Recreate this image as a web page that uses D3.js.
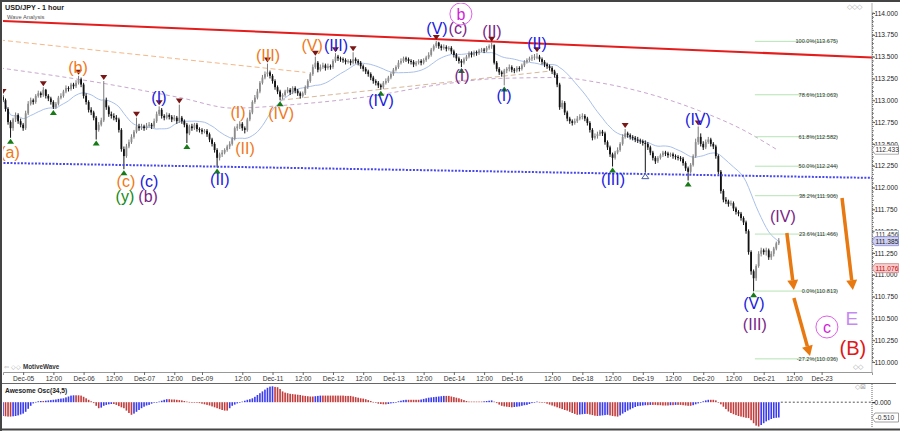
<!DOCTYPE html>
<html><head><meta charset="utf-8">
<script src="https://cdn.jsdelivr.net/npm/d3@7"></script>
<style>body{margin:0;background:#fff;}svg{display:block;font-family:"Liberation Sans",Arial,sans-serif;}</style>
</head><body><svg id="c" width="900" height="431"></svg>
<script>
// ---- DATA (prices in hundredths of a yen above 110.00) ----
const firstOpen = 304;
const closes = [
300,290,275,268,278,283,276,272,268,285,
296,300,298,305,308,306,312,305,302,298,
292,296,303,305,310,314,313,318,316,320,
324,318,305,298,289,286,280,266,272,277,
300,292,284,282,280,278,266,244,236,247,
252,258,264,270,268,270,268,271,272,270,
276,284,289,282,280,283,281,278,280,276,
280,276,272,262,270,268,272,267,266,264,
265,261,255,250,243,234,238,240,243,247,
250,256,268,270,273,268,266,278,286,298,
303,310,320,326,330,332,328,322,315,310,
304,306,310,312,309,314,311,308,305,308,
315,322,330,338,343,335,338,340,337,339,
338,345,350,348,347,346,344,345,343,347,
345,343,339,336,333,330,326,322,320,317,
315,320,322,326,330,335,338,343,345,348,
347,345,344,341,343,345,343,346,349,352,
358,362,366,362,360,361,359,360,356,352,
348,345,343,347,350,354,352,355,354,357,
358,357,360,362,363,343,336,332,330,334,
336,338,335,334,337,336,340,344,346,348,
349,350,350,347,344,341,339,337,333,329,
318,292,297,286,279,276,274,276,279,281,
282,279,274,266,257,259,261,264,262,252,
246,238,234,240,243,250,258,262,260,258,
257,255,254,253,251,250,246,240,234,230,
234,237,240,239,237,238,236,235,234,233,
228,222,218,226,236,252,258,250,246,252,
255,250,247,236,218,196,186,184,181,182,
176,172,170,165,160,150,126,104,96,110,
124,128,126,128,120,124,130,136,139];
const highs = [
306,302,292,277,280,286,285,279,274,288,
299,303,302,307,311,310,315,313,307,304,
300,298,305,308,312,317,316,320,320,323,
328,326,320,308,300,292,288,282,275,280,
322,303,294,287,285,283,280,268,247,250,
255,261,266,280,273,273,272,274,275,274,
279,287,293,291,284,286,285,283,283,282,
295,282,278,274,272,273,274,274,269,268,
267,267,263,257,252,245,240,243,245,249,
253,258,270,273,276,275,270,280,289,300,
306,313,322,329,333,342,334,330,324,317,
312,308,312,315,314,316,316,313,310,310,
317,324,332,341,350,345,341,343,342,342,
341,347,354,352,350,349,348,347,347,355,
349,347,345,341,338,335,332,328,324,322,
319,322,325,328,332,337,340,346,348,350,
350,349,347,346,345,347,347,348,351,355,
360,364,368,367,364,364,363,362,362,358,
354,350,347,349,352,356,356,357,357,359,
360,360,362,364,366,364,345,338,334,336,
338,341,340,337,339,339,342,346,348,350,
352,353,354,352,349,346,343,341,339,335,
331,320,300,299,288,281,278,279,282,284,
285,284,281,276,268,262,264,266,266,264,
254,248,240,242,246,252,261,267,264,262,
260,259,258,256,255,254,252,248,242,236,
236,239,242,242,241,240,240,238,237,236,
235,230,224,228,238,256,270,262,253,255,
258,257,252,249,238,220,198,189,186,185,
184,178,174,172,167,162,152,128,106,112,
127,131,130,131,130,127,132,138,142];
const lows = [
298,287,272,257,265,275,273,269,265,266,
283,294,295,296,303,303,304,302,299,295,
290,290,294,301,303,308,310,311,313,314,
318,315,302,295,286,283,277,255,264,270,
275,289,281,279,277,275,263,241,221,234,
245,250,256,262,265,266,265,266,269,267,
268,274,282,279,277,278,278,275,276,273,
274,273,269,251,260,265,266,264,263,261,
262,258,252,247,240,223,231,235,238,241,
244,248,254,265,267,265,262,264,276,284,
296,301,308,318,324,327,325,319,312,307,
300,301,304,308,306,307,308,305,302,303,
306,313,320,328,336,332,333,336,334,335,
335,336,343,345,344,343,341,342,340,341,
342,340,336,333,330,327,323,319,317,314,
312,313,318,320,324,328,333,336,341,343,
344,342,341,338,339,341,340,341,344,347,
350,356,360,359,357,358,356,357,353,349,
345,342,338,341,345,348,349,350,351,352,
355,354,355,358,359,341,333,329,327,317,
331,333,332,331,332,333,334,338,342,344,
345,346,347,344,341,338,336,334,330,326,
315,289,290,283,276,273,271,272,274,277,
278,276,271,263,254,255,256,259,259,249,
243,235,224,232,238,241,248,256,257,255,
254,252,251,250,248,217,243,237,231,227,
228,232,235,236,234,235,233,232,231,230,
225,219,208,216,224,234,249,247,243,244,
250,247,244,233,215,193,183,181,178,179,
173,169,167,162,157,147,123,100,81,93,
108,121,123,122,117,117,121,128,134];
// Awesome oscillator (hundredths)
const aoValues = [
-46,-47,-48,-48,-47,-46,-44,-41,-38,-32,
-22,-12,-4,1,3,4,4,5,6,7,
8,9,11,12,13,16,19,22,23,23,
23,22,18,13,8,3,-3,-12,-20,-18,
-12,-9,-7,-6,-6,-9,-13,-17,-20,-28,
-36,-42,-38,-32,-26,-20,-15,-11,-9,-5,
-2,0,2,5,8,10,10,9,9,8,
7,6,4,2,1,0,-1,-2,-3,-5,
-7,-9,-11,-14,-17,-20,-23,-26,-28,-28,
-20,-12,-8,-4,-1,2,5,8,10,13,
18,24,30,36,42,48,52,53,51,50,
44,36,32,30,28,27,26,25,24,22,
21,20,19,19,20,21,22,22,22,22,
22,22,22,22,22,22,21,21,21,19,
17,15,13,12,10,7,4,1,-2,-5,
-6,-7,-7,-6,-4,-3,0,3,5,7,
8,8,8,8,8,8,9,11,13,15,
16,17,18,19,20,21,21,21,19,17,
15,13,10,7,4,2,2,2,2,2,
2,3,4,5,6,2,-3,-8,-12,-14,
-15,-16,-17,-16,-15,-14,-12,-10,-9,-6,
-3,0,2,1,0,-2,-5,-8,-11,-14,
-17,-20,-23,-26,-28,-32,-36,-39,-42,-41,
-40,-39,-39,-41,-43,-45,-46,-45,-44,-43,
-42,-44,-46,-47,-48,-44,-38,-33,-28,-24,
-20,-16,-13,-12,-11,-10,-10,-9,-9,-9,
-10,-10,-11,-11,-11,-10,-10,-9,-9,-9,
-10,-11,-12,-12,-10,-7,-4,-1,3,6,
8,8,8,6,0,-7,-15,-23,-31,-36,
-40,-43,-46,-48,-50,-52,-53,-60,-70,-78,
-81,-76,-70,-64,-60,-56,-53,-52,-51];
const tickBars = [8,20,32,44,56,68,79,95,107,119,131,143,155,167,179,191,202,218,230,242,254,266,278,290,302,314,325];
const tickLabels = ["Dec-05","12:00","Dec-06","12:00","Dec-07","12:00","Dec-09","12:00","Dec-11","12:00","Dec-12","12:00","Dec-13","12:00","Dec-14","12:00","Dec-16","12:00","Dec-18","12:00","Dec-19","12:00","Dec-20","12:00","Dec-21","12:00","Dec-23"];
const priceTicks = [110,110.25,110.5,110.75,111,111.25,111.5,111.75,112,112.25,112.5,112.75,113,113.25,113.5,113.75,114];
const fibPct = ["100.0","78.6","61.8","50.0","38.2","23.6","0.0","-27.2"];
const fibPrice = [113.675,113.063,112.582,112.244,111.906,111.466,110.813,110.036];
const fibSpan = [298.5,331.5];
const swingHighBars = [0,16,30,40,53,62,70,105,124,132,139,172,194,212,247,276];
const swingLowBars = [3,20,37,48,73,85,110,150,182,199,242,272,298];
const hollowLowBars = [255];
const redTrend = [[-1.2,113.91],[345,113.49]];
const blueSupport = [[-1.2,112.282],[345,112.11]];
const orangeGuide = [[-1.2,113.69],[120,113.32]];
const tanGuide = [[110,113.00],[219,113.34]];
const purpleMA = [[-1.2,113.37],[38.5,113.2],[70.3,113.03],[91.3,112.91],[115.1,112.95],[144.5,113.04],[173.5,113.18],[197,113.25],[220,113.26],[237,113.2],[275.5,112.89],[293.8,112.66],[307.3,112.433]];
const waveLabels = [
 {t:"(a)",k:"o",i:2.8,p:112.407},{t:"(b)",k:"o",i:29.8,p:113.381},{t:"(c)",k:"o",i:48.8,p:112.075},
 {t:"(c)",k:"b",i:58.0,p:112.075},{t:"(y)",k:"g",i:48.4,p:111.903},{t:"(b)",k:"p",i:57.6,p:111.903},
 {t:"(I)",k:"b",i:61.9,p:113.037},{t:"(II)",k:"b",i:86.1,p:112.097},{t:"(I)",k:"o",i:93.3,p:112.865},
 {t:"(II)",k:"o",i:96.1,p:112.453},{t:"(III)",k:"o",i:105.2,p:113.519},{t:"(IV)",k:"o",i:110.4,p:112.854},
 {t:"(V)",k:"o",i:122.7,p:113.633},{t:"(III)",k:"b",i:132.2,p:113.633},{t:"(IV)",k:"b",i:150.1,p:113.003},
 {t:"(V)",k:"b",i:172.3,p:113.828},{t:"(c)",k:"p",i:180.6,p:113.828},{t:"(I)",k:"p",i:182.2,p:113.289},
 {t:"(II)",k:"p",i:194.1,p:113.794},{t:"(I)",k:"b",i:198.9,p:113.06},{t:"(II)",k:"b",i:212.0,p:113.656},
 {t:"(III)",k:"b",i:242.2,p:112.097},{t:"(IV)",k:"b",i:275.9,p:112.785},{t:"(V)",k:"b",i:298.1,p:110.676},
 {t:"(III)",k:"p",i:298.5,p:110.436},{t:"(IV)",k:"p",i:309.6,p:111.673}];
const circled = [{t:"b",i:181.8,p:113.989},{t:"c",i:327.1,p:110.401}];
const bigLabels = [{t:"E",k:"v",i:337.0,p:110.504},{t:"(B)",k:"r",i:337.4,p:110.16}];
const arrows = [[[311.2,111.479],[314.0,110.825]],[[314.0,110.733],[320.4,110.069]],[[333.1,111.88],[337.4,110.825]]];
const lastPrice = 111.385, purpleMAValue = 112.433, blueMAValue = 111.456, markPrice = 111.076, aoLast = -0.510;

// ---- CHART ----
const svg = d3.select('#c');
const x = d3.scaleLinear().domain([0,345]).range([3,872]);
const y = d3.scaleLinear().domain([110,114]).range([362,13]);
const yAO = d3.scaleLinear().domain([-0.51,0]).range([417.5,402.2]);
const P = v => 110 + v/100;
const colors = {o:"#f07818",b:"#1a1ae0",p:"#7a1f86",g:"#138a13",v:"#c58af0",r:"#e01818"};

const bars = closes.map((c,i)=>({i,o:i?closes[i-1]:firstOpen,h:highs[i],l:lows[i],c}));

svg.append('rect').attr('width',900).attr('height',431).attr('fill','#fff');
const defs = svg.append('defs');
defs.append('clipPath').attr('id','mainClip').append('rect').attr('x',3).attr('y',3).attr('width',869).attr('height',369);
defs.append('clipPath').attr('id','aoClip').append('rect').attr('x',3).attr('y',384).attr('width',869).attr('height',44);

const main = svg.append('g').attr('clip-path','url(#mainClip)');
const line = d3.line().x(d=>x(d[0])).y(d=>y(d[1]));
const curved = d3.line().x(d=>x(d[0])).y(d=>y(d[1])).curve(d3.curveMonotoneX);

// guide lines
main.append('path').attr('d',line(orangeGuide)).attr('fill','none').attr('stroke','#f5b787').attr('stroke-width',1).attr('stroke-dasharray','5,3');
main.append('path').attr('d',line(tanGuide)).attr('fill','none').attr('stroke','#d8b89a').attr('stroke-width',1).attr('stroke-dasharray','5,3');
main.append('path').attr('d',curved(purpleMA)).attr('fill','none').attr('stroke','#c9a6cf').attr('stroke-width',1).attr('stroke-dasharray','4,3');
// SMA(20) of closes
const sma = closes.map((c,i)=>[i, P(d3.mean(closes.slice(Math.max(0,i-19),i+1)))]);
main.append('path').attr('d',line(sma)).attr('fill','none').attr('stroke','#a9c0ea').attr('stroke-width',1);

// fib levels
fibPrice.forEach((fp,k)=>{
  main.append('line').attr('x1',x(fibSpan[0])).attr('x2',x(fibSpan[1])).attr('y1',y(fp)).attr('y2',y(fp)).attr('stroke','#b5e3b5').attr('stroke-width',1);
  main.append('text').attr('x',x(fibSpan[1])).attr('y',y(fp)+2).attr('text-anchor','end').attr('font-size','5.6px').attr('fill','#333')
    .text(`${fibPct[k]}%(${fp.toFixed(3)})`);
});

// candles
const cg = main.append('g');
cg.selectAll('line.w').data(bars).join('line').attr('class','w')
  .attr('x1',d=>x(d.i)).attr('x2',d=>x(d.i)).attr('y1',d=>y(P(d.h))).attr('y2',d=>y(P(d.l)))
  .attr('stroke',d=>d.c>=d.o?'#7a7a7a':'#111').attr('stroke-width',1);
cg.selectAll('rect').data(bars).join('rect')
  .attr('x',d=>x(d.i)-0.9).attr('width',1.8)
  .attr('y',d=>y(P(Math.max(d.o,d.c)))).attr('height',d=>Math.max(1,Math.abs(y(P(d.o))-y(P(d.c)))))
  .attr('fill',d=>d.c>=d.o?'#8c8c8c':'#111');

// trend lines
main.append('path').attr('d',line(blueSupport)).attr('stroke','#4646f0').attr('stroke-width',2).attr('stroke-dasharray','2,1.5').attr('fill','none');
main.append('path').attr('d',line(redTrend)).attr('stroke','#e41c1c').attr('stroke-width',2).attr('fill','none');

// swing markers
const tri = (cx,cy,down)=> down ? `M${cx-3.5},${cy-5}L${cx+3.5},${cy-5}L${cx},${cy}Z` : `M${cx-3.5},${cy+5}L${cx+3.5},${cy+5}L${cx},${cy}Z`;
main.selectAll('path.mh').data(swingHighBars).join('path').attr('class','mh')
  .attr('d',i=>tri(x(i),y(P(highs[i]))-1,true)).attr('fill','#7a1616');
main.selectAll('path.ml').data(swingLowBars).join('path').attr('class','ml')
  .attr('d',i=>tri(x(i),y(P(lows[i]))+1,false)).attr('fill','#177a17');
main.selectAll('path.mo').data(hollowLowBars).join('path').attr('class','mo')
  .attr('d',i=>tri(x(i),y(P(lows[i]))+1,false)).attr('fill','#fff').attr('stroke','#4a5a9a').attr('stroke-width',1);

// wave labels
main.selectAll('text.wl').data(waveLabels).join('text').attr('class','wl')
  .attr('x',d=>x(d.i)).attr('y',d=>y(d.p)).attr('dy','0.35em').attr('text-anchor','middle')
  .attr('font-size','16px').attr('fill',d=>colors[d.k]).text(d=>d.t);
circled.forEach(d=>{
  main.append('circle').attr('cx',x(d.i)).attr('cy',y(d.p)).attr('r',11).attr('fill','none').attr('stroke','#e060e8').attr('stroke-width',1);
  main.append('text').attr('x',x(d.i)).attr('y',y(d.p)).attr('dy','0.35em').attr('text-anchor','middle').attr('font-size','16px').attr('fill','#d21ed8').text(d.t);
});
main.selectAll('text.bl').data(bigLabels).join('text').attr('class','bl')
  .attr('x',d=>x(d.i)).attr('y',d=>y(d.p)).attr('dy','0.35em').attr('text-anchor','middle')
  .attr('font-size',d=>d.k==='r'?'20px':'19px').attr('fill',d=>colors[d.k]).text(d=>d.t);

// arrows
arrows.forEach(a=>{
  const x1=x(a[0][0]),y1=y(a[0][1]),x2=x(a[1][0]),y2=y(a[1][1]);
  const ang=Math.atan2(y2-y1,x2-x1), hl=10, hw=5.5;
  const bx=x2-hl*Math.cos(ang), by=y2-hl*Math.sin(ang);
  main.append('line').attr('x1',x1).attr('y1',y1).attr('x2',bx).attr('y2',by).attr('stroke','#e87810').attr('stroke-width',3.5);
  const px=-Math.sin(ang), py=Math.cos(ang);
  main.append('path').attr('d',`M${x2},${y2}L${bx+px*hw},${by+py*hw}L${bx-px*hw},${by-py*hw}Z`).attr('fill','#e87810');
});

// title
svg.append('text').attr('x',5).attr('y',10).attr('font-size','7.2px').attr('font-weight','bold').attr('fill','#222').text('USD/JPY - 1 hour');
svg.append('text').attr('x',7).attr('y',19).attr('font-size','5.8px').attr('fill','#555').text('Wave Analysis');

// right price axis
const pAxis = svg.append('g').attr('transform','translate(872,0)')
  .call(d3.axisRight(y).tickValues(priceTicks).tickFormat(d3.format('.3f')).tickSize(3));
pAxis.select('.domain').attr('stroke','#666').attr('stroke-dasharray','1,1');
pAxis.selectAll('text').attr('font-size','6.6px').attr('fill','#222').attr('x',2.5);
pAxis.selectAll('line').attr('stroke','#555');
svg.append('g').selectAll('line').data(d3.range(110,114.01,0.05)).join('line')
  .attr('x1',872).attr('x2',874).attr('y1',d=>y(d)).attr('y2',d=>y(d)).attr('stroke','#888');

// value boxes
function box(yy,txt,fill,stroke,tc){
  const g=svg.append('g');
  g.append('path').attr('d',`M872,${yy}L875,${yy-4.5}L898.5,${yy-4.5}L898.5,${yy+4.5}L875,${yy+4.5}Z`).attr('fill',fill).attr('stroke',stroke).attr('stroke-width',0.8);
  g.append('text').attr('x',875.5).attr('y',yy+2.4).attr('font-size','6.6px').attr('fill',tc).text(txt);
}
box(y(purpleMAValue),purpleMAValue.toFixed(3),'#fff','#999','#333');
box(y(blueMAValue),blueMAValue.toFixed(3),'#fff','#9ab','#333');
box(y(lastPrice),lastPrice.toFixed(3),'#cdd0f4','#8a8ad0','#222');
box(y(markPrice),markPrice.toFixed(3),'#f6cccc','#d08a8a','#c00');

// time axis
const tAxis = svg.append('g').attr('transform','translate(0,372)')
  .call(d3.axisBottom(x).tickValues(tickBars).tickFormat((d,i)=>tickLabels[i]).tickSize(3));
tAxis.select('.domain').attr('stroke','#999');
tAxis.selectAll('line').attr('stroke','#666');
tAxis.selectAll('text').attr('font-size','6.6px').attr('fill','#333').attr('y',4);

// footer of main panel
svg.append('text').attr('x',4).attr('y',369).attr('font-size','6px').attr('fill','#999').text('⇦ ◇◇');
svg.append('text').attr('x',23).attr('y',369).attr('font-size','6.3px').attr('font-weight','bold').attr('fill','#333').text('MotiveWave');
svg.append('text').attr('x',847).attr('y',9).attr('font-size','7px').attr('fill','#aaa').text('◇◇◇');
svg.append('text').attr('x',853).attr('y',369).attr('font-size','7px').attr('fill','#aaa').text('◇◇');
svg.append('text').attr('x',855).attr('y',389).attr('font-size','7px').attr('fill','#aaa').text('◇⊠');

// AO pane
svg.append('line').attr('x1',0).attr('x2',896).attr('y1',383.5).attr('y2',383.5).attr('stroke','#666').attr('stroke-width',1.2);
const aoG = svg.append('g').attr('clip-path','url(#aoClip)');
aoG.selectAll('rect').data(aoValues).join('rect')
  .attr('x',(d,i)=>x(i)-0.8).attr('width',1.6)
  .attr('y',d=>Math.min(yAO(d/100),yAO(0))).attr('height',d=>Math.max(0.6,Math.abs(yAO(d/100)-yAO(0))))
  .attr('fill',(d,i)=> (i===0 || d>aoValues[i-1]) ? '#3a3aee' : '#c23c3c');
svg.append('line').attr('x1',x(aoValues.length-1)+2).attr('x2',872).attr('y1',yAO(0)).attr('y2',yAO(0)).attr('stroke','#555').attr('stroke-dasharray','2,2');
svg.append('text').attr('x',5).attr('y',393).attr('font-size','6.6px').attr('font-weight','bold').attr('fill','#222').text('Awesome Osc(34,5)');
const aAxis = svg.append('g').attr('transform','translate(872,0)')
  .call(d3.axisRight(yAO).tickValues([0]).tickFormat(d3.format('.3f')).tickSize(3));
aAxis.select('.domain').remove();
aAxis.selectAll('text').attr('font-size','6.6px').attr('fill','#222').attr('x',2.5);
svg.append('line').attr('x1',872).attr('x2',872).attr('y1',384).attr('y2',428).attr('stroke','#666').attr('stroke-dasharray','1,1');
box(yAO(aoLast),aoLast.toFixed(3),'#fff','#888','#333');

// frame
svg.append('line').attr('x1',0).attr('x2',900).attr('y1',1).attr('y2',1).attr('stroke','#444').attr('stroke-width',2);
svg.append('line').attr('x1',1).attr('x2',1).attr('y1',0).attr('y2',431).attr('stroke','#444').attr('stroke-width',2);
svg.append('line').attr('x1',0).attr('x2',900).attr('y1',429.5).attr('y2',429.5).attr('stroke','#444').attr('stroke-width',2);
svg.append('line').attr('x1',872).attr('x2',872).attr('y1',3).attr('y2',372).attr('stroke','#777').attr('stroke-width',0.6);
</script></body></html>
